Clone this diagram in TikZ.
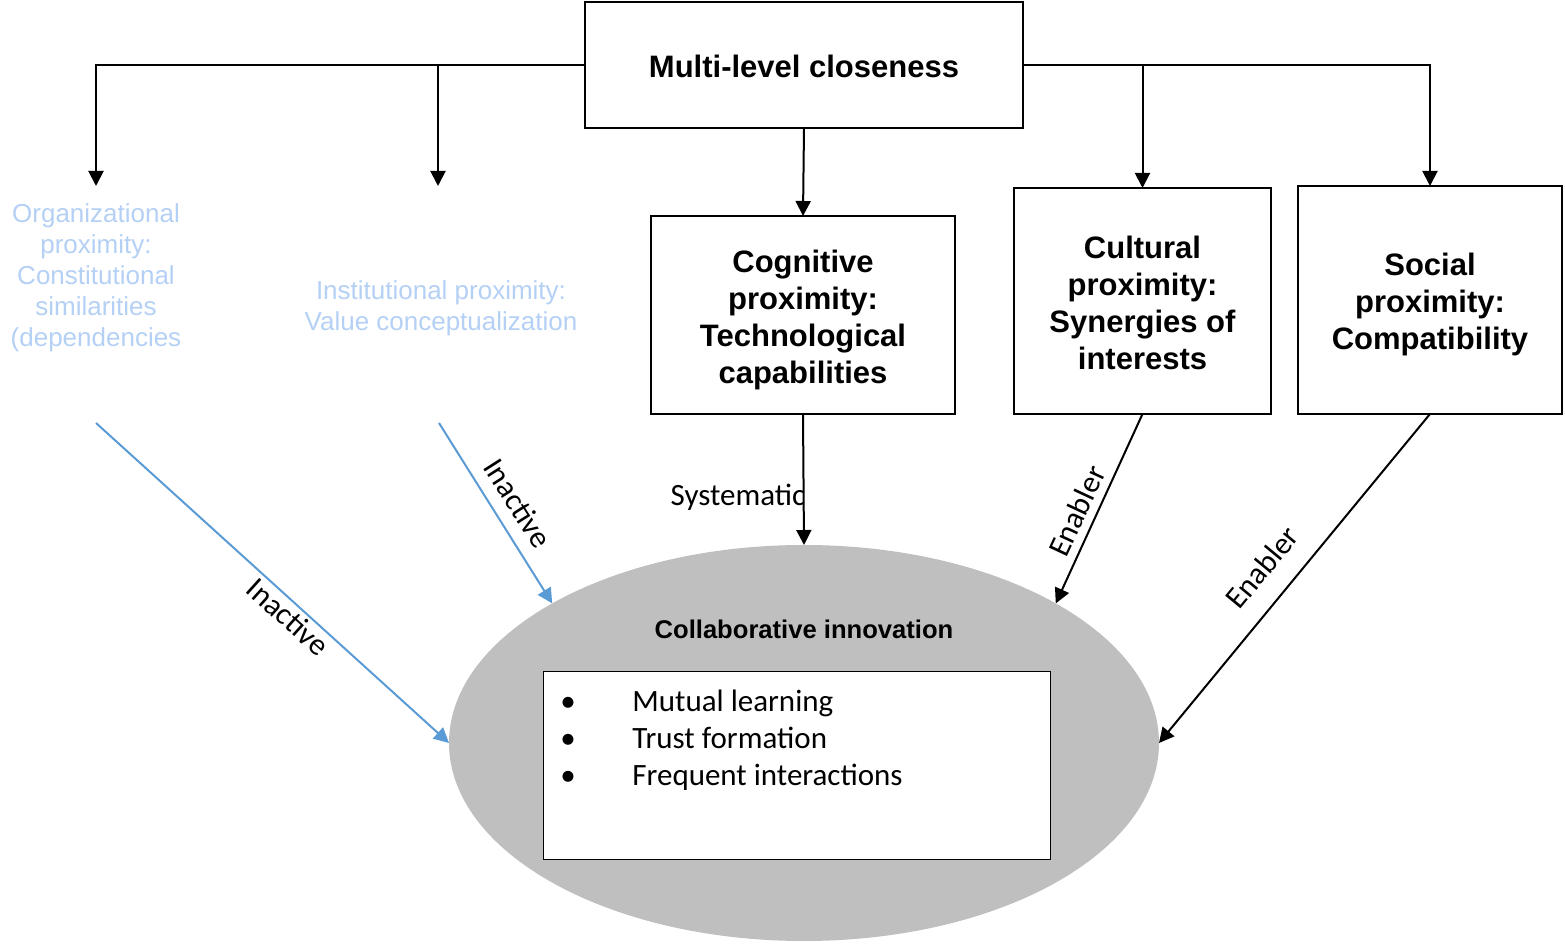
\documentclass[tikz,border=0pt]{standalone}
\usepackage{fontspec}
\setmainfont{Liberation Sans}
\newfontfamily\carlito{Carlito}
\usetikzlibrary{arrows.meta,shapes.geometric}
\definecolor{lightblue}{HTML}{B4D0F5}
\definecolor{arrowblue}{HTML}{5B9BD5}
\definecolor{ellgray}{HTML}{BFBFBF}
\begin{document}
\begin{tikzpicture}[x=0.5pt,y=-0.5pt,
 box/.style={draw, line width=1pt, inner sep=0pt, outer sep=0pt},
 boxtext/.style={inner sep=0pt, align=center, font=\fontsize{15.5}{18.5}\selectfont\bfseries},
 arr/.style={line width=1pt, -{Triangle[length=7.5pt,width=7.5pt]}},
 barr/.style={arr, draw=arrowblue, fill=arrowblue},
 faint/.style={text=lightblue, align=center, font=\fontsize{13}{15.5}\selectfont},
 lbl/.style={font=\carlito\fontsize{15.5}{18.5}\selectfont, inner sep=0pt}]
\useasboundingbox (0,0) rectangle (1565,945);
% boxes
\node[box, minimum width=219pt, minimum height=63pt] (top) at (804,65) {};
\node[boxtext] (topt) at (804,66) {Multi-level closeness};
\node[box, minimum width=152pt, minimum height=99pt] (cog) at (803,315) {};
\node[boxtext] (cogt) at (803,320) {Cognitive\\proximity:\\Technological\\capabilities};
\node[box, minimum width=128.5pt, minimum height=113pt] (cul) at (1142.5,301) {};
\node[boxtext] (cult) at (1142.5,303) {Cultural\\proximity:\\Synergies of\\interests};
\node[box, minimum width=132pt, minimum height=114pt] (soc) at (1430,300) {};
\node[boxtext] (soct) at (1430,304) {Social\\proximity:\\Compatibility};
\node[faint] (org) at (96,278) {Organizational\\proximity:\\Constitutional\\similarities\\(dependencies};
\node[faint] (inst) at (441,308) {Institutional proximity:\\Value conceptualization};
% ellipse
\node[ellipse, fill=ellgray, minimum width=355pt, minimum height=198pt, inner sep=0pt, outer sep=0pt] (ci) at (804,743) {};
\node[font=\fontsize{12.8}{15}\selectfont\bfseries, inner sep=0pt] (citext) at (804,629) {Collaborative innovation};
\node[draw, fill=white, line width=0.5pt, minimum width=253.5pt, minimum height=94pt, inner sep=0pt, outer sep=0pt] (list) at (796.5,766) {};
\node[lbl, anchor=base west] (item1) at (560,712) {\makebox[36pt][l]{•}Mutual learning};
\node[lbl, anchor=base west] (item2) at (560,749) {\makebox[36pt][l]{•}Trust formation};
\node[lbl, anchor=base west] (item3) at (560,786) {\makebox[36pt][l]{•}Frequent interactions};
% top connectors
\coordinate (orgtip) at (96,186);
\coordinate (insttip) at (438,186);
\draw[arr] (top.west) -| (orgtip);
\draw[arr] (top.west -| insttip) -- (insttip);
\draw[arr] (top.east) -| (soc.north);
\draw[arr] (top.east -| cul.north) -- (cul.north);
\draw[arr] (top.south) -- (cog.north);
% bottom connectors
\coordinate (orgout) at (96,423);
\coordinate (instout) at (439,423);
\draw[barr] (orgout) -- (ci.west);
\draw[barr] (instout) -- (ci.151);
\draw[arr] (cog.south) -- (ci.north);
\draw[arr] (cul.south) -- (ci.29);
\draw[arr] (soc.south) -- (ci.east);
% labels
\node[lbl, rotate=-42] (l1) at (288,617) {Inactive};
\node[lbl, rotate=-57.5] (l2) at (518,503) {Inactive};
\node[lbl] (l3) at (738,497) {Systematic};
\node[lbl, rotate=65] (l4) at (1077,511) {Enabler};
\node[lbl, rotate=50.4] (l5) at (1262,567) {Enabler};
\end{tikzpicture}
\end{document}
